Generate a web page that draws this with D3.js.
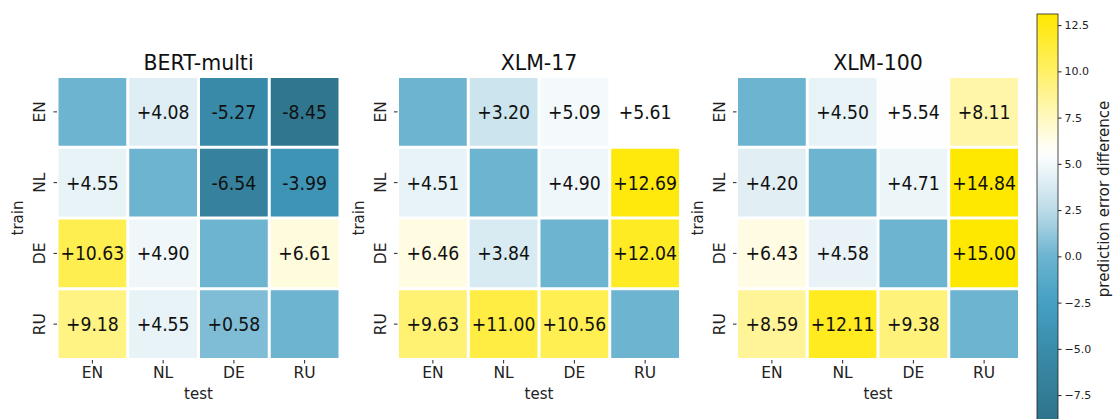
<!DOCTYPE html>
<html>
<head>
<meta charset="utf-8">
<script src="https://cdn.jsdelivr.net/npm/d3@7"></script>
<style>
  body { margin: 0; background: #fff; }
  svg { display: block; font-family: "DejaVu Sans", sans-serif; }
</style>
</head>
<body>
<div id="chart"></div>
<script>
// languages (rows = train, cols = test)
const langs = ['EN', 'NL', 'DE', 'RU'];
const modelNames = ['BERT-multi', 'XLM-17', 'XLM-100'];

// prediction error difference, diagonal has no label
const bertMulti = [
    [0, 4.08, -5.27, -8.45],
    [4.55, 0, -6.54, -3.99],
    [10.63, 4.90, 0, 6.61],
    [9.18, 4.55, 0.58, 0]
];
const xlm17 = [
    [0, 3.20, 5.09, 5.61],
    [4.51, 0, 4.90, 12.69],
    [6.46, 3.84, 0, 12.04],
    [9.63, 11.00, 10.56, 0]
];
const xlm100 = [
    [0, 4.50, 5.54, 8.11],
    [4.20, 0, 4.71, 14.84],
    [6.43, 4.58, 0, 15.00],
    [8.59, 12.11, 9.38, 0]
];
const colorbarTicks = [-7.5, -5.0, -2.5, 0.0, 2.5, 5.0, 7.5, 10.0, 12.5];

const matrices = [bertMulti, xlm17, xlm100];

const W = 1113, H = 419;
const svg = d3.select('#chart').append('svg')
    .attr('width', W)
    .attr('height', H);

// kolormap: mørk blågrønn -> hvit -> gul
const vmin = -9.5, vmax = 13.1;
const color = d3.scaleLinear()
    .domain([-9.5, -7.5, -5, -2.5, 0, 2.5, 5.6, 7.5, 10, 13.1])
    .range(['#2c6f88', '#337c96', '#3a8cab', '#44a0c4', '#6cb4d0', '#bcdce8', '#ffffff', '#fff8bf', '#fff065', '#ffe800'])
    .clamp(true);

const panelLefts = [57, 397.5, 736.5];
const panelSize = 283;
const gridTop = 76.5;
const gap = 3;
const txt = '#222';

matrices.forEach((m, p) => {
    const x0 = panelLefts[p];
    const x = d3.scaleBand().domain(langs).range([x0, x0 + panelSize]);
    const y = d3.scaleBand().domain(langs).range([gridTop, gridTop + panelSize]);
    const g = svg.append('g');

    const cells = [];
    m.forEach((row, i) => row.forEach((v, j) => cells.push({ r: langs[i], c: langs[j], v, diag: i === j })));

    g.selectAll('rect.cell')
        .data(cells)
        .enter().append('rect')
        .attr('class', 'cell')
        .attr('x', d => x(d.c) + gap / 2)
        .attr('y', d => y(d.r) + gap / 2)
        .attr('width', x.bandwidth() - gap)
        .attr('height', y.bandwidth() - gap)
        .attr('fill', d => color(d.v));

    g.selectAll('text.val')
        .data(cells.filter(d => !d.diag))
        .enter().append('text')
        .attr('class', 'val')
        .attr('transform', d => `translate(${x(d.c) + x.bandwidth() / 2}, ${y(d.r) + y.bandwidth() / 2 + 7}) scale(0.91,1)`)
        .attr('text-anchor', 'middle')
        .attr('font-size', 19)
        .attr('fill', '#111')
        .text(d => (d.v >= 0 ? '+' : '') + d.v.toFixed(2));

    // title
    g.append('text')
        .attr('x', x0 + panelSize / 2)
        .attr('y', 70)
        .attr('text-anchor', 'middle')
        .attr('font-size', 20.5)
        .attr('fill', '#111')
        .text(modelNames[p]);

    // x-akse
    const xAxis = g.append('g')
        .attr('transform', `translate(0, ${gridTop + panelSize})`)
        .call(d3.axisBottom(x).tickSize(3.5).tickPadding(4));
    xAxis.select('.domain').remove();
    xAxis.selectAll('line').attr('stroke', txt).attr('transform', 'translate(0,0.5)');
    xAxis.selectAll('text').attr('font-size', 15.5).attr('font-family', 'DejaVu Sans').attr('fill', txt);

    // y-akse
    const yAxis = g.append('g')
        .attr('transform', `translate(${x0}, 0)`)
        .call(d3.axisLeft(y).tickSize(3.5).tickPadding(0));
    yAxis.select('.domain').remove();
    yAxis.selectAll('line').attr('stroke', txt);
    yAxis.selectAll('text')
        .attr('font-size', 15.5)
        .attr('font-family', 'DejaVu Sans')
        .attr('fill', txt)
        .attr('text-anchor', 'middle')
        .attr('x', 0)
        .attr('dy', 0)
        .attr('transform', 'translate(-12,0) rotate(-90)');

    g.append('text')
        .attr('transform', `translate(${x0 - 34}, ${gridTop + panelSize / 2}) rotate(-90)`)
        .attr('text-anchor', 'middle')
        .attr('font-size', 15)
        .attr('fill', txt)
        .text('train');

    g.append('text')
        .attr('x', x0 + panelSize / 2)
        .attr('y', 399)
        .attr('text-anchor', 'middle')
        .attr('font-size', 15)
        .attr('fill', txt)
        .text('test');
});

// fargeskala
const cbX = 1037, cbW = 21, cbTop = 14;
const cbScale = d3.scaleLinear().domain([vmin, vmax]).range([cbTop + (vmax - vmin) * 18.5, cbTop]);
const defs = svg.append('defs');
const grad = defs.append('linearGradient')
    .attr('id', 'cbGrad')
    .attr('x1', 0).attr('y1', 1).attr('x2', 0).attr('y2', 0);
d3.range(0, 1.0001, 0.02).forEach(t => {
    grad.append('stop')
        .attr('offset', t)
        .attr('stop-color', color(vmin + t * (vmax - vmin)));
});
svg.append('rect')
    .attr('x', cbX)
    .attr('y', cbScale(vmax))
    .attr('width', cbW)
    .attr('height', cbScale(vmin) - cbScale(vmax))
    .attr('fill', 'url(#cbGrad)')
    .attr('stroke', '#222')
    .attr('stroke-width', 0.8);

const cbAxis = svg.append('g')
    .attr('transform', `translate(${cbX + cbW}, 0)`)
    .call(d3.axisRight(cbScale).tickValues(colorbarTicks).tickSize(3.5).tickPadding(3)
        .tickFormat(d => d3.format('.1f')(d).replace('-', '\u2212')));
cbAxis.select('.domain').remove();
cbAxis.selectAll('line').attr('stroke', txt);
cbAxis.selectAll('text').attr('font-size', 11).attr('font-family', 'DejaVu Sans').attr('fill', txt);

svg.append('text')
    .attr('transform', `translate(1109, 199) rotate(-90)`)
    .attr('text-anchor', 'middle')
    .attr('font-size', 15)
    .attr('fill', txt)
    .text('prediction error difference');
</script>
</body>
</html>
